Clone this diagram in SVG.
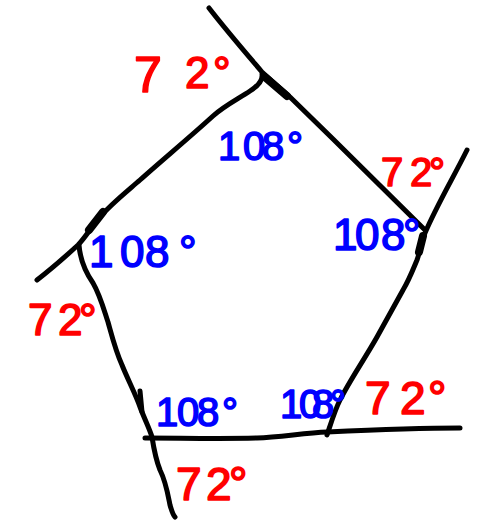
<svg xmlns="http://www.w3.org/2000/svg" width="479" height="524" viewBox="0 0 479 524">
<style>
.ln{fill:none;stroke:#000;stroke-width:5;stroke-linecap:round;stroke-linejoin:round}
.thk{fill:none;stroke:#000;stroke-width:8;stroke-linecap:round}
.t{font-family:"Liberation Sans",Arial,sans-serif;stroke-width:1.6;stroke-linejoin:round}
.red{fill:#f00;stroke:#f00}
.blue{fill:#00f;stroke:#00f}
</style>
<rect width="479" height="524" fill="#fff"/>
<g id="lines">
<path class="ln" d="M209,8 C226,30 245,52 262,72 L290,97 L333,139 L425,230"/>
<path class="ln" d="M262,74 C263,81 258,86 250,91 C238,99 224,106 213,116 C190,137 160,162 140,180 C125,193 110,205 100,217 C92,226 85,238 78,245 C66,256 50,270 37,280"/>
<path class="ln" d="M467,150 C452,180 437,205 425,233 C421,243 420,252 417,260 C412,272 409,280 403,290 C394,306 386,321 377,337 C364,360 350,380 340,400 C335,410 332,420 327,435"/>
<path class="ln" d="M145,438 C180,438 220,439 257,438 C280,437 305,433 327,432 C370,430 420,428 460,428"/>
<path class="ln" d="M79,245 C80,258 84,270 93,283 C100,295 104,310 108,322 C113,340 116,352 122,365 C128,380 136,395 140,407 C145,420 150,430 152,437 C154,450 156,460 160,470 C166,482 168,495 170,505 C172,512 174,516 175,517"/>
<path class="thk" d="M266,78 L287,96"/>
<path class="thk" d="M103,212 L89,230"/>
<path class="thk" d="M423,236 L419,252"/>
<path class="ln" d="M140,391 L142,412"/>
</g>
<g id="labels">
<text class="t red" y="88" font-size="44"><tspan x="134" font-size="50" dy="4">7</tspan><tspan x="185" dy="-4">2</tspan><tspan x="213">°</tspan></text>
<text class="t blue" x="218 243 262 287" y="160" font-size="40">108°</text>
<text class="t red" x="381 410 429" y="186" font-size="40">72°</text>
<text class="t blue" x="333 355 381 403" y="250" font-size="44">108°</text>
<text class="t blue" x="89 120 145 179" y="267" font-size="44">108°</text>
<text class="t red" x="28 58 79" y="335" font-size="44">72°</text>
<text class="t blue" x="156 177 197 222" y="426" font-size="40">108°</text>
<text class="t blue" x="280 299 312 330" y="418" font-size="40">108°</text>
<text class="t red" x="365 400 428" y="414" font-size="46">72°</text>
<text class="t red" x="176 206 229" y="500" font-size="46">72°</text>
</g>
</svg>
